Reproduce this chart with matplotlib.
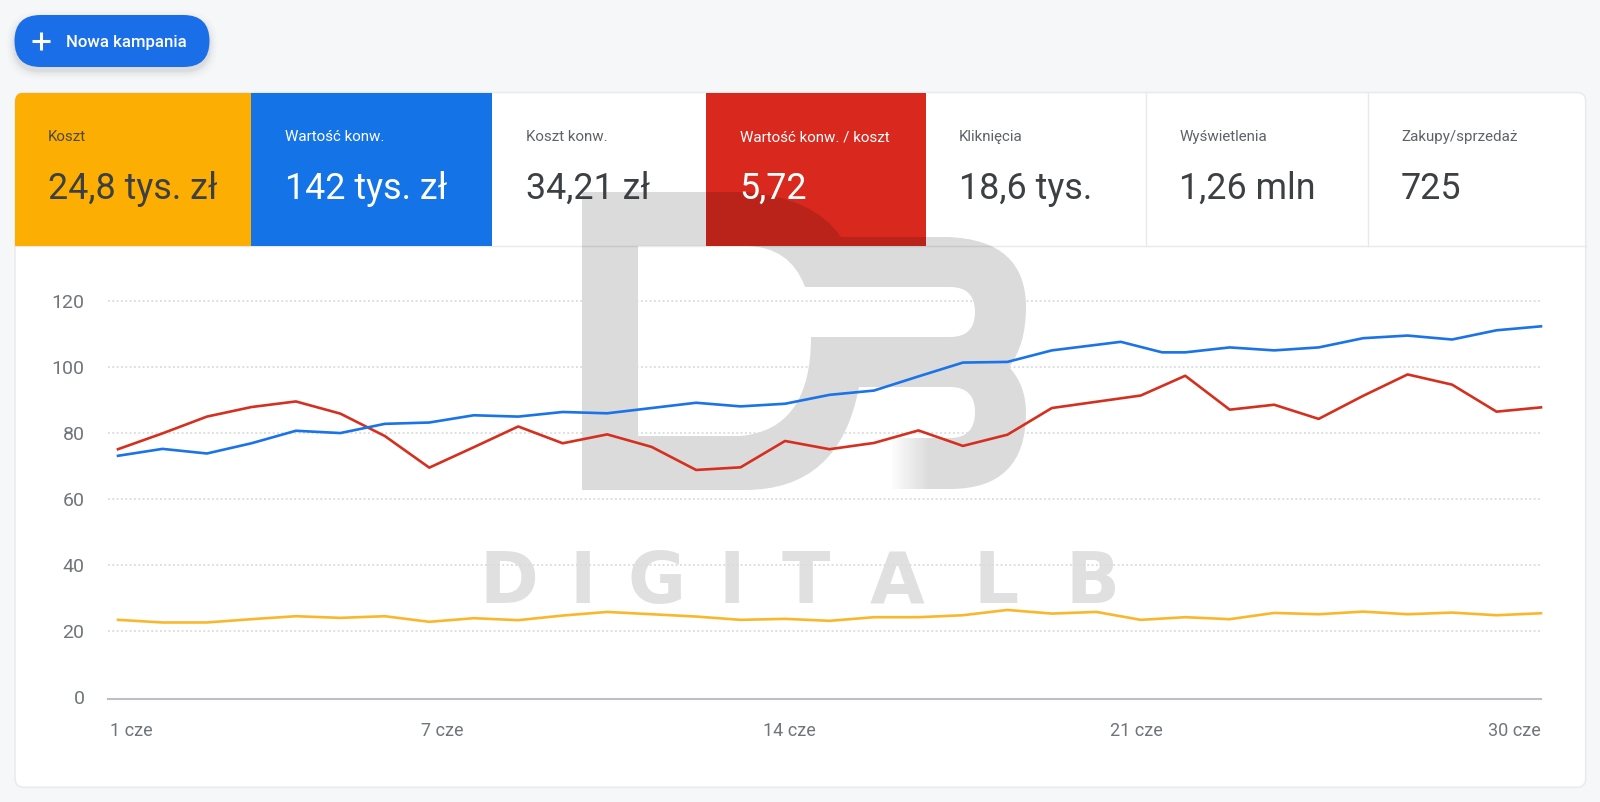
import numpy as np
import matplotlib
matplotlib.use("Agg")
import matplotlib.pyplot as plt
from matplotlib.patches import FancyBboxPatch, Rectangle, PathPatch
from matplotlib.path import Path

plt.rcParams['font.family'] = ['Roboto', 'DejaVu Sans']

# ---------- data ----------
days = list(range(33))
blue_days = list(range(22)) + [22.55, 23.48] + list(range(24, 33))
koszt = [23.3, 22.5, 22.5, 23.5, 24.4, 23.9, 24.4, 22.7, 23.8, 23.2, 24.6, 25.7, 25.0, 24.3, 23.3, 23.6,
         23.0, 24.1, 24.1, 24.7, 26.3, 25.2, 25.7, 23.3, 24.1, 23.5, 25.4, 25.0, 25.8, 25.0, 25.5, 24.7, 25.3]
wartosc = [73.1, 75.2, 73.8, 76.9, 80.7, 80.0, 82.8, 83.2, 85.4, 85.0, 86.4, 86.0, 87.6, 89.2, 88.1, 88.9,
           91.6, 92.9, 97.2, 101.4, 101.6, 105.1, 107.7, 104.5, 104.5, 106.0, 105.1, 106.0, 108.8, 109.6, 108.4, 111.2, 112.4]
roas = [75.1, 79.9, 85.0, 87.9, 89.6, 85.9, 79.1, 69.5, 75.7, 82.0, 76.9, 79.6, 75.8, 68.8, 69.6, 77.6,
        75.1, 77.0, 80.8, 76.1, 79.5, 87.6, 89.5, 91.4, 97.4, 87.1, 88.6, 84.3, 91.3, 97.8, 94.7, 86.5, 87.8]
y_ticks = [0, 20, 40, 60, 80, 100, 120]
x_tick_days = [0.3, 7.3, 15.1, 22.9, 31.4]
x_tick_labels = ['1 cze', '7 cze', '14 cze', '21 cze', '30 cze']

tile_labels = ['Koszt', 'Wartość konw.', 'Koszt konw.', 'Wartość konw. / koszt',
               'Kliknięcia', 'Wyświetlenia', 'Zakupy/sprzedaż']
tile_values = ['24,8 tys. zł', '142 tys. zł', '34,21 zł', '5,72', '18,6 tys.', '1,26 mln', '725']
button_label = 'Nowa kampania'
brand = 'DIGITALB'

# ---------- style ----------
BG = '#f6f7f8'
BLUE, RED, YELLOW = '#1a73e8', '#d5301f', '#fbb72c'
TILE_EDGES = [15, 251, 491.5, 705.6, 926, 1146.4, 1367.9, 1585.7]
TILE_FILL = ['#fdae03', '#1473e6', None, '#d9291e', None, None, None]
TEXT_DARK = '#3c4043'
TEXT_GREY = '#5f6368'
TICK = '#70757a'
W, H = 1600, 802

fig = plt.figure(figsize=(16, 8.02), dpi=100, facecolor=BG)
bg = fig.add_axes([0, 0, 1, 1], zorder=0)
bg.set_xlim(0, W); bg.set_ylim(H, 0); bg.axis('off')

# button with soft shadow
for grow, a in [(9, .006), (7, .010), (5, .014), (3.5, .018), (2, .022), (1, .026)]:
    bg.add_patch(FancyBboxPatch((14.5 + 26, 15 + 26 + 4), 195 - 52, 0.01,
                                boxstyle=f'round,pad={26 + grow},rounding_size={26 + grow}',
                                fc='black', ec='none', alpha=a))
bg.add_patch(FancyBboxPatch((14.5 + 26, 15 + 26), 195 - 52, 0.01,
                            boxstyle='round,pad=26,rounding_size=26', fc='#1a6fe8', ec='none'))
bg.plot([31.5, 50], [41, 41], color='white', lw=2.2, solid_capstyle='butt')
bg.plot([40.8, 40.8], [32, 50], color='white', lw=2.2, solid_capstyle='butt')
bg.text(66, 42, button_label, color='white', fontsize=12.1, fontweight='medium', va='center', ha='left')

# card
card = FancyBboxPatch((15, 92.5), 1570.7, 694.8, boxstyle='round,pad=0,rounding_size=9',
                      fc='white', ec='#e8eaec', lw=1.1)
bg.add_patch(card)

# tiles
for i, fill in enumerate(TILE_FILL):
    l, r = TILE_EDGES[i], TILE_EDGES[i + 1]
    if fill:
        t = Rectangle((l, 92.5), r - l, 153.2, fc=fill, ec='none', zorder=2)
        bg.add_patch(t)
        t.set_clip_path(card)
bg.plot([15, 1585.7], [245.7, 245.7], color='#e8e9eb', lw=1.0, zorder=1.5)
for x in TILE_EDGES[5:7]:
    bg.plot([x, x], [92.5, 245.7], color='#e8e9eb', lw=1.0, zorder=1.5)

# watermark logo (one compound shape, holes wound the other way)
V, C = Path.MOVETO, Path.CURVE3
L = Path.LINETO
outer = [((582, 192), V), ((745, 192), L), ((815, 198), C), ((841, 237), C), ((948, 237), L),
         ((1026, 240), C), ((1026, 307), C), ((1026, 345), C), ((1009, 367), C), ((1026, 385), C), ((1026, 413), C),
         ((1026, 489), C), ((950, 489), C), ((892, 489), L), ((892, 438), L), ((950, 438), L),
         ((975, 438), C), ((975, 412), C), ((975, 387), C), ((950, 387), C), ((859, 387), L),
         ((840, 490), C), ((745, 490), C), ((582, 490), L), ((582, 192), L)]
hole = [((638, 246), V), ((638, 436), L), ((740, 436), L), ((811, 430), C), ((811, 337), C),
        ((950, 337), L), ((975, 337), C), ((975, 312), C), ((975, 287), C), ((950, 287), C),
        ((805, 287), L), ((790, 246), C), ((745, 246), C), ((638, 246), L)]
verts = [p for p, _ in outer + hole]
codes = [c for _, c in outer + hole]
bg.add_patch(PathPatch(Path(verts, codes), fc='black', ec='none', alpha=0.14, zorder=3))
fade = np.ones((2, 64, 4)); fade[..., 3] = np.linspace(1, 0, 64)
bg.imshow(fade, extent=(890, 930, 490, 437), aspect='auto', zorder=3.1, interpolation='bilinear')
bg.set_xlim(0, W); bg.set_ylim(H, 0)

brand_spans = [(480, 537), (576.5, 588), (627.5, 686), (726, 737), (775.5, 836), (861, 934), (971, 1022), (1063, 1121)]
for ch, (a, b) in zip(brand, brand_spans):
    bg.text((a + b) / 2, 576, ch, fontsize=51, fontweight='bold', family='DejaVu Sans', color='black', alpha=0.12,
            ha='center', va='center_baseline', zorder=3)

# tile text
for i, (lab, val) in enumerate(zip(tile_labels, tile_values)):
    x = TILE_EDGES[i] + (33 if i == 0 else 34 if i < 4 else 33)
    if i in (1, 3):
        c1 = c2 = 'white'
    elif i == 0:
        c1, c2 = '#4a4a3a', TEXT_DARK
    else:
        c1, c2 = TEXT_GREY, TEXT_DARK
    bg.text(x, 137, lab, fontsize=10.9, color=c1, va='center', ha='left', zorder=5)
    bg.text(x, 189, val, fontsize=25.8, color=c2, va='center', ha='left', zorder=5)

# chart axes
x0_px, x1_px, spacing = 108, 1541, (1541 - 118) / 32
ax = fig.add_axes([x0_px / W, 1 - 698.7 / H, (x1_px - x0_px) / W, 397.4 / H], zorder=2)
ax.patch.set_alpha(0)
ax.set_xlim(-(118 - 108) / spacing, 32)
ax.set_ylim(-0.64, 120)
for s in ax.spines.values():
    s.set_visible(False)
ax.spines['bottom'].set_visible(True)
ax.spines['bottom'].set_color('#bdbfc2')
ax.spines['bottom'].set_linewidth(1.5)
ax.set_yticks(y_ticks)
ax.set_xticks(x_tick_days, x_tick_labels)
ax.tick_params(axis='y', length=0, pad=17, labelsize=14, labelcolor=TICK)
ax.tick_params(axis='x', length=0, pad=17, labelsize=13, labelcolor=TICK)
for v in y_ticks[1:]:
    ax.axhline(v, color='#dadbdd', lw=1.3, ls=(0, (1, 1.4)), zorder=1, clip_on=False)
ax.plot(days, koszt, color=YELLOW, lw=1.9, zorder=3, clip_on=False)
ax.plot(days, roas, color=RED, lw=1.9, zorder=3, clip_on=False)
ax.plot(blue_days, wartosc, color=BLUE, lw=1.9, zorder=4, clip_on=False)

fig.savefig('out.png', dpi=100, facecolor=BG)
